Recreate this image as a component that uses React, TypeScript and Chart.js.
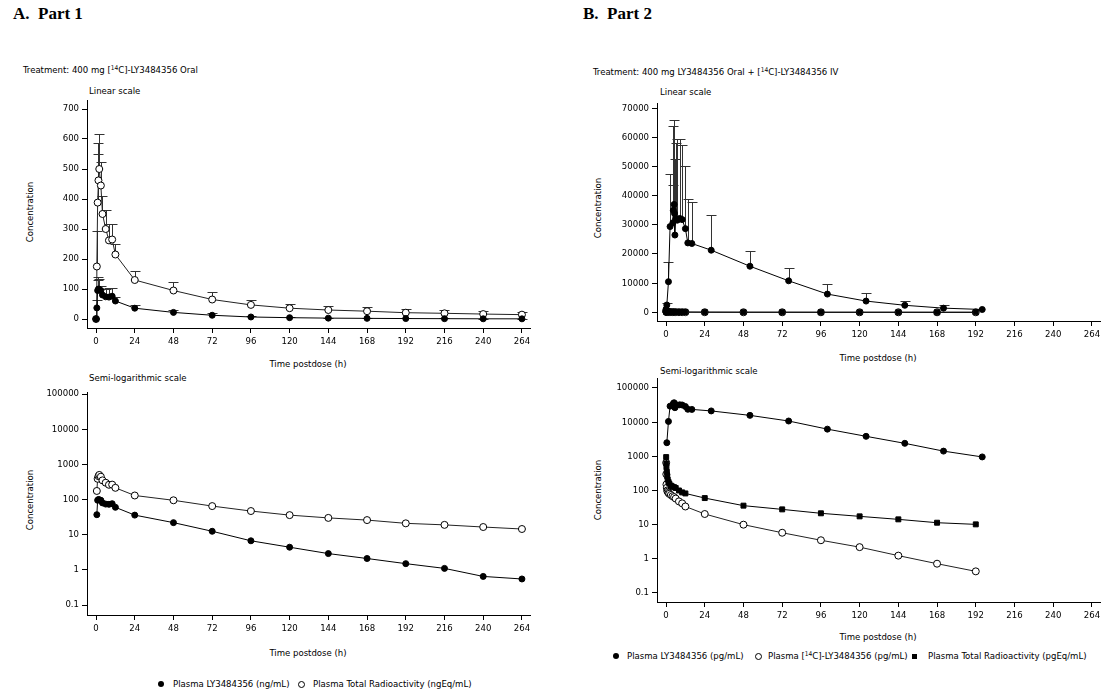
import React, { useEffect, useRef } from 'react';
import { Chart, registerables } from 'chart.js';

Chart.register(...registerables);

const FONT = '"DejaVu Sans Condensed", "Liberation Sans Narrow", "DejaVu Sans", sans-serif';
const FS = 9.5;

// ---- tick labels ----
const TIME_TICKS = [0, 24, 48, 72, 96, 120, 144, 168, 192, 216, 240, 264];
const LIN_TICKS_P1 = [0, 100, 200, 300, 400, 500, 600, 700];
const LIN_TICKS_P2 = [0, 10000, 20000, 30000, 40000, 50000, 60000, 70000];
const LOG_TICKS = [0.1, 1, 10, 100, 1000, 10000, 100000];

// ---- Part 1 data (h, ng/mL, ngEq/mL) ----
const TIME_P1 = [0, 0.5, 1, 1.5, 2, 3, 4, 6, 8, 10, 12, 24, 48, 72, 96, 120, 144, 168, 192, 216, 240, 264];
const P1_LY = [0, 37, 95, 100, 98, 95, 80, 74, 73, 76, 60, 36, 22, 12.5, 6.7, 4.4, 2.9, 2.1, 1.5, 1.1, 0.65, 0.55];
const P1_LY_SD = [0, 25, 45, 30, 34, 15, 20, 26, 30, 28, 15, 10, 8, 7.5, 3.3, 2, 1.5, 1.2, 1, 0.8, 0.5, 0.4];
const P1_TRA = [0, 175, 388, 462, 500, 445, 350, 300, 262, 265, 215, 130, 95, 65, 47, 36, 30, 26, 21, 19, 16.5, 14.5];
const P1_TRA_SD = [0, 120, 162, 126, 118, 80, 60, 62, 56, 53, 36, 30, 30, 25, 18, 14, 14, 13, 11, 11, 10.5, 7.5];

// ---- Part 2 data (h, pg/mL, pgEq/mL) ----
const TIME_P2_ORAL = [0, 0.5, 1.5, 2.5, 4.25, 4.5, 5, 5.25, 5.5, 6, 7, 8.5, 10, 12, 13.5, 16, 28, 52, 76, 100, 124, 148, 172, 196];
const P2_LY = [0, 2500, 10500, 29400, 30700, 35000, 37000, 33900, 26500, 32000, 31600, 32200, 31800, 28700, 23800, 23600, 21300, 15800, 10800, 6250, 3850, 2400, 1420, 960];
const P2_LY_SD = [0, 800, 6600, 18200, 12800, 29000, 29000, 18700, 0, 26000, 27900, 27300, 25600, 21500, 15000, 14100, 12100, 5200, 4300, 3300, 2600, 1600, 1050, 0];
const TIME_P2_IV = [0.08, 0.17, 0.25, 0.5, 0.75, 1, 1.5, 2, 3, 4, 5, 6, 8, 10, 12, 24, 48, 72, 96, 120, 144, 168, 192];
const P2_TRA = [950, 620, 480, 350, 260, 210, 180, 160, 140, 130, 125, 118, 100, 88, 82, 60, 36, 28, 21.5, 17.5, 14.3, 11.4, 10.2];
const P2_C14 = [650, 300, 150, 120, 100, 92, 85, 80, 74, 68, 64, 58, 48, 42, 34, 20.5, 10, 5.8, 3.5, 2.2, 1.24, 0.72, 0.43];

const X_MIN = -5.6;
const X_MAX = 269;

const errorBarPlugin = {
  id: 'errorBars',
  beforeDatasetsDraw(chart: any) {
    const ctx = chart.ctx;
    const yScale = chart.scales.y;
    const area = chart.chartArea;
    ctx.save();
    ctx.beginPath();
    ctx.rect(area.left, area.top - 2, area.right - area.left, area.bottom - area.top + 4);
    ctx.clip();
    ctx.strokeStyle = '#333';
    ctx.lineWidth = 1;
    chart.data.datasets.forEach((ds: any, i: number) => {
      if (!ds.errorPlus) return;
      const meta = chart.getDatasetMeta(i);
      meta.data.forEach((el: any, j: number) => {
        const v = ds.data[j] && ds.data[j].y;
        const sd = ds.errorPlus[j];
        if (v == null || !sd) return;
        const yTop = Math.round(yScale.getPixelForValue(v + sd)) + 0.5;
        const x = Math.round(el.x) + 0.5;
        ctx.beginPath();
        ctx.moveTo(x, el.y);
        ctx.lineTo(x, yTop);
        ctx.moveTo(x - 5, yTop);
        ctx.lineTo(x + 5, yTop);
        ctx.stroke();
      });
    });
    ctx.restore();
  },
};

type Box = { x: number; y: number; w: number; h: number; padTop: number; padRight: number; yW: number; xH: number };

function pts(t: number[], v: number[], log: boolean) {
  return t.map((x, i) => ({ x, y: log ? (v[i] > 0 ? v[i] : null) : v[i] }));
}

function ds(t: number[], v: number[], log: boolean, kind: 'filled' | 'open' | 'square', sd?: number[]) {
  const base: any = {
    data: pts(t, v, log),
    borderColor: kind === 'open' ? '#222' : '#000',
    borderWidth: 1,
    tension: 0,
    spanGaps: true,
    pointBorderColor: '#000',
    pointBorderWidth: 1,
    pointHoverRadius: 3,
  };
  if (kind === 'filled') {
    base.pointStyle = 'circle';
    base.pointRadius = 3;
    base.pointBackgroundColor = '#000';
  } else if (kind === 'open') {
    base.pointStyle = 'circle';
    base.pointRadius = 3.5;
    base.pointBackgroundColor = '#fff';
  } else {
    base.pointStyle = 'rect';
    base.pointRadius = 3.5;
    base.pointBackgroundColor = '#000';
  }
  if (sd && !log) base.errorPlus = sd;
  return base;
}

function axisCommon() {
  return {
    grid: { display: true, drawOnChartArea: false, drawTicks: true, tickLength: 5, color: '#000', lineWidth: 1 },
    border: { display: true, color: '#000', width: 1 },
    ticks: {
      color: '#000',
      font: { family: FONT, size: FS },
      padding: 3,
      autoSkip: false,
      maxRotation: 0,
      callback: (v: any) => String(v),
    },
  };
}

function Panel(props: { box: Box; yType: 'linear' | 'logarithmic'; yMin: number; yMax: number; yTicks: number[]; datasets: any[] }) {
  const ref = useRef<HTMLCanvasElement>(null);
  const { box, yType, yMin, yMax, yTicks, datasets } = props;
  useEffect(() => {
    const chart = new Chart(ref.current as HTMLCanvasElement, {
      type: 'line',
      data: { datasets },
      options: {
        animation: false,
        responsive: false,
        devicePixelRatio: 1,
        layout: { padding: { left: 0, top: box.padTop, right: box.padRight, bottom: 0 } },
        plugins: { legend: { display: false }, tooltip: { enabled: false } },
        scales: {
          x: {
            type: 'linear',
            min: X_MIN,
            max: X_MAX,
            ...axisCommon(),
            afterBuildTicks: (s: any) => {
              s.ticks = TIME_TICKS.map((v) => ({ value: v }));
            },
            afterFit: (s: any) => {
              s.height = box.xH;
            },
          },
          y: {
            type: yType,
            min: yMin,
            max: yMax,
            ...axisCommon(),
            afterBuildTicks: (s: any) => {
              s.ticks = yTicks.map((v) => ({ value: v }));
            },
            afterFit: (s: any) => {
              s.width = box.yW;
            },
          },
        },
      } as any,
      plugins: [errorBarPlugin],
    });
    return () => chart.destroy();
  }, []);
  return (
    <canvas
      ref={ref}
      width={box.w}
      height={box.h}
      style={{ position: 'absolute', left: box.x, top: box.y, width: box.w, height: box.h }}
    />
  );
}

function Label(props: { x: number; y: number; center?: boolean; rotate?: boolean; style?: any; children: any }) {
  const { x, y, center, rotate, style, children } = props;
  let transform = 'translateY(-50%)';
  if (center) transform = 'translate(-50%, -50%)';
  if (rotate) transform = 'translate(-50%, -50%) rotate(-90deg)';
  return (
    <div
      style={{
        position: 'absolute',
        left: x,
        top: y,
        transform,
        fontFamily: FONT,
        fontSize: FS,
        lineHeight: '10px',
        whiteSpace: 'nowrap',
        color: '#000',
        ...style,
      }}
    >
      {children}
    </div>
  );
}

const Sup14 = () => (
  <span style={{ fontSize: 6.5, position: 'relative', top: -3 }}>14</span>
);

function Marker(props: { kind: 'filled' | 'open' | 'square'; x: number; y: number }) {
  const { kind, x, y } = props;
  const size = kind === 'open' ? 7 : kind === 'square' ? 5 : 6;
  return (
    <div
      style={{
        position: 'absolute',
        left: x - size / 2,
        top: y - size / 2,
        width: size,
        height: size,
        boxSizing: 'border-box',
        borderRadius: kind === 'square' ? 0 : '50%',
        background: kind === 'open' ? '#fff' : '#000',
        border: kind === 'open' ? '1px solid #000' : 'none',
      }}
    />
  );
}

export default function App() {
  const boxA1: Box = { x: 20, y: 88, w: 516, h: 270, padTop: 12, padRight: 6, yW: 67, xH: 30 };
  const boxA2: Box = { x: 20, y: 380, w: 516, h: 265, padTop: 12, padRight: 6, yW: 67, xH: 30 };
  const boxB1: Box = { x: 590, y: 91, w: 516, h: 260, padTop: 12, padRight: 6, yW: 67, xH: 30 };
  const boxB2: Box = { x: 590, y: 366, w: 516, h: 266, padTop: 12, padRight: 6, yW: 67, xH: 30 };

  const a1 = [ds(TIME_P1, P1_LY, false, 'filled', P1_LY_SD), ds(TIME_P1, P1_TRA, false, 'open', P1_TRA_SD)];
  const a2 = [ds(TIME_P1, P1_LY, true, 'filled'), ds(TIME_P1, P1_TRA, true, 'open')];
  const b1 = [
    ds(TIME_P2_ORAL, P2_LY, false, 'filled', P2_LY_SD),
    ds(TIME_P2_IV, P2_TRA, false, 'square'),
    ds(TIME_P2_IV, P2_C14, false, 'open'),
  ];
  const b2 = [
    ds(TIME_P2_ORAL, P2_LY, true, 'filled'),
    ds(TIME_P2_IV, P2_TRA, true, 'square'),
    ds(TIME_P2_IV, P2_C14, true, 'open'),
  ];

  const heading = { fontFamily: '"Liberation Serif", "Times New Roman", serif', fontWeight: 'bold', fontSize: 17, lineHeight: '17px' };

  return (
    <div style={{ position: 'absolute', left: 0, top: 0, width: 1106, height: 690, overflow: 'hidden', background: '#fff' }}>
      <div style={{ position: 'absolute', left: 13, top: 5, whiteSpace: 'pre', ...heading }}>A.  Part 1</div>
      <div style={{ position: 'absolute', left: 583, top: 5, whiteSpace: 'pre', ...heading }}>B.  Part 2</div>

      <Label x={23} y={70}>Treatment: 400 mg [<Sup14 />C]-LY3484356 Oral</Label>
      <Label x={89} y={90.5}>Linear scale</Label>
      <Label x={89} y={378}>Semi-logarithmic scale</Label>
      <Label x={30} y={212} rotate>Concentration</Label>
      <Label x={30} y={500} rotate>Concentration</Label>
      <Label x={308} y={364} center>Time postdose (h)</Label>
      <Label x={308} y={653} center>Time postdose (h)</Label>

      <Label x={593} y={71.5}>Treatment: 400 mg LY3484356 Oral + [<Sup14 />C]-LY3484356 IV</Label>
      <Label x={660} y={91.5}>Linear scale</Label>
      <Label x={660} y={371}>Semi-logarithmic scale</Label>
      <Label x={598} y={208} rotate>Concentration</Label>
      <Label x={598} y={490} rotate>Concentration</Label>
      <Label x={878} y={358} center>Time postdose (h)</Label>
      <Label x={878} y={637} center>Time postdose (h)</Label>

      <Panel box={boxA1} yType="linear" yMin={-30} yMax={730} yTicks={LIN_TICKS_P1} datasets={a1} />
      <Panel box={boxA2} yType="logarithmic" yMin={0.052} yMax={114000} yTicks={LOG_TICKS} datasets={a2} />
      <Panel box={boxB1} yType="linear" yMin={-2990} yMax={71800} yTicks={LIN_TICKS_P2} datasets={b1} />
      <Panel box={boxB2} yType="logarithmic" yMin={0.0545} yMax={196000} yTicks={LOG_TICKS} datasets={b2} />

      <Marker kind="filled" x={161} y={684} />
      <Label x={173} y={684}>Plasma LY3484356 (ng/mL)</Label>
      <Marker kind="open" x={301} y={684} />
      <Label x={313} y={684}>Plasma Total Radioactivity (ngEq/mL)</Label>

      <Marker kind="filled" x={616} y={656} />
      <Label x={627} y={656}>Plasma LY3484356 (pg/mL)</Label>
      <Marker kind="open" x={758} y={656} />
      <Label x={768} y={656}>Plasma [<Sup14 />C]-LY3484356 (pg/mL)</Label>
      <Marker kind="square" x={914} y={656} />
      <Label x={928} y={656}>Plasma Total Radioactivity (pgEq/mL)</Label>
    </div>
  );
}
